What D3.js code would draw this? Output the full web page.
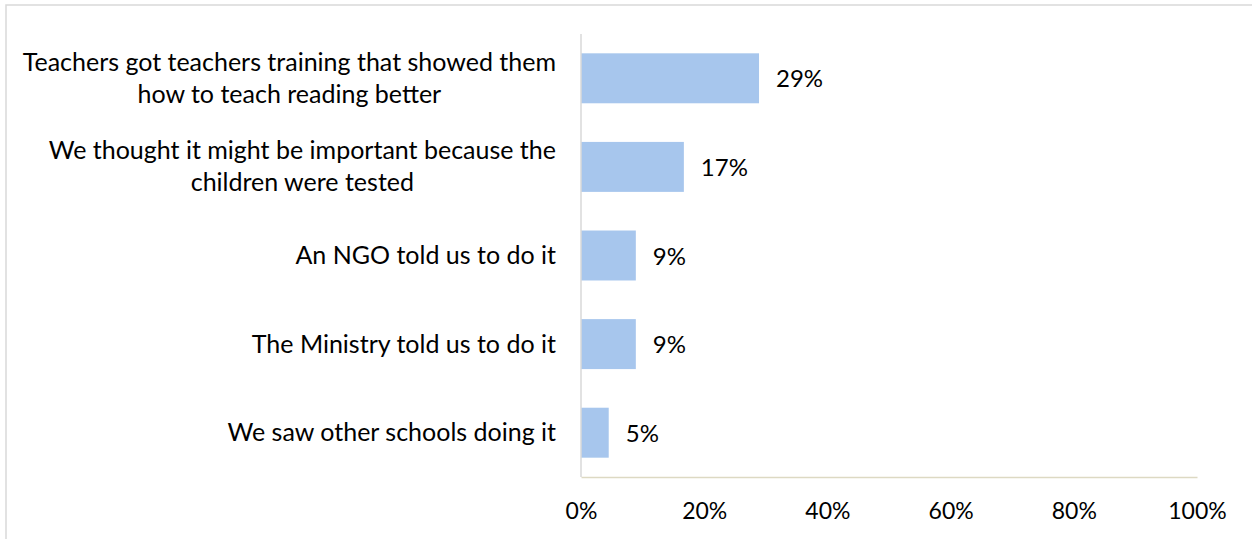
<!DOCTYPE html>
<html>
<head>
<meta charset="utf-8">
<script src="https://cdn.jsdelivr.net/npm/d3@7"></script>
<style>
  body { margin: 0; background: #fff; }
  text { font-family: Lato, "Open Sans", sans-serif; fill: #000; }
</style>
</head>
<body>
<svg id="chart" width="1252" height="539"></svg>
<script>
// categories (each one split into its display lines)
var categories = [
    ["Teachers got teachers training that showed them", "how to teach reading better"],
    ["We thought it might be important because the", "children were tested"],
    ["An NGO told us to do it"],
    ["The Ministry told us to do it"],
    ["We saw other schools doing it"]
];
var values = [28.9, 16.7, 8.9, 8.9, 4.5];
var valueLabels = ["29%", "17%", "9%", "9%", "5%"];
var ticks = [0, 20, 40, 60, 80, 100];

var svg = d3.select("#chart");
var width = 1252, height = 539;

var plot = {"left": 581, "right": 1197, "top": 34, "bottom": 477};

// outer frame, cut off at the right and bottom like the original
svg.append("rect")
    .attr("x", 6)
    .attr("y", 5)
    .attr("width", width)
    .attr("height", height)
    .attr("fill", "none")
    .attr("stroke", "#d9d9d9")
    .attr("stroke-width", 1.5);

var x = d3.scaleLinear().domain([0, 100]).range([plot.left, plot.right]);
var y = d3.scaleBand()
    .domain(d3.range(categories.length))
    .range([plot.top, plot.bottom])
    .paddingInner(0.436)
    .paddingOuter(0.218);

// bars
svg.append("g").selectAll("rect")
    .data(values)
    .join("rect")
    .attr("x", x(0))
    .attr("y", (d, i) => y(i))
    .attr("width", d => x(d) - x(0))
    .attr("height", y.bandwidth())
    .attr("fill", "#a7c6ed");

// value labels
svg.append("g").selectAll("text")
    .data(values)
    .join("text")
    .attr("x", d => x(d) + 17)
    .attr("y", (d, i) => y(i) + y.bandwidth() / 2 + 9)
    .attr("font-size", "24px")
    .text((d, i) => valueLabels[i]);

// category labels
var cats = svg.append("g").selectAll("text")
    .data(categories)
    .join("text")
    .attr("text-anchor", "middle")
    .attr("font-size", "25px")
    .attr("y", (d, i) => y(i) + y.bandwidth() / 2 + 8.5);

cats.each(function (lines) {
    var t = d3.select(this);
    var lineH = 32;
    var off = -(lines.length - 1) * lineH / 2;
    // measure widest line so lines are centred on each other and right-aligned as a block
    var tmp = lines.map(function (l) {
        var s = t.append("tspan").text(l);
        var w = s.node().getComputedTextLength();
        s.remove();
        return w;
    });
    var maxW = d3.max(tmp);
    var cx = 556 - maxW / 2;
    lines.forEach(function (l, k) {
        t.append("tspan")
            .attr("x", cx)
            .attr("dy", k === 0 ? off : lineH)
            .text(l);
    });
});

// y axis line
svg.append("line")
    .attr("x1", x(0)).attr("x2", x(0))
    .attr("y1", plot.top).attr("y2", plot.bottom)
    .attr("stroke", "#d9d9d9")
    .attr("stroke-width", 1.5);

// x axis
var xAxis = d3.axisBottom(x)
    .tickValues(ticks)
    .tickSize(0)
    .tickPadding(0)
    .tickFormat(d => d + "%");

var gx = svg.append("g")
    .attr("transform", "translate(0," + plot.bottom + ")")
    .call(xAxis);
gx.select(".domain")
    .attr("stroke", "#ddd9c3")
    .attr("stroke-width", 1.5);
gx.selectAll("text")
    .attr("dy", null)
    .attr("y", 42)
    .attr("font-size", "23px")
    .attr("font-family", "Lato, 'Open Sans', sans-serif")
    .attr("fill", "#000");
</script>
</body>
</html>
